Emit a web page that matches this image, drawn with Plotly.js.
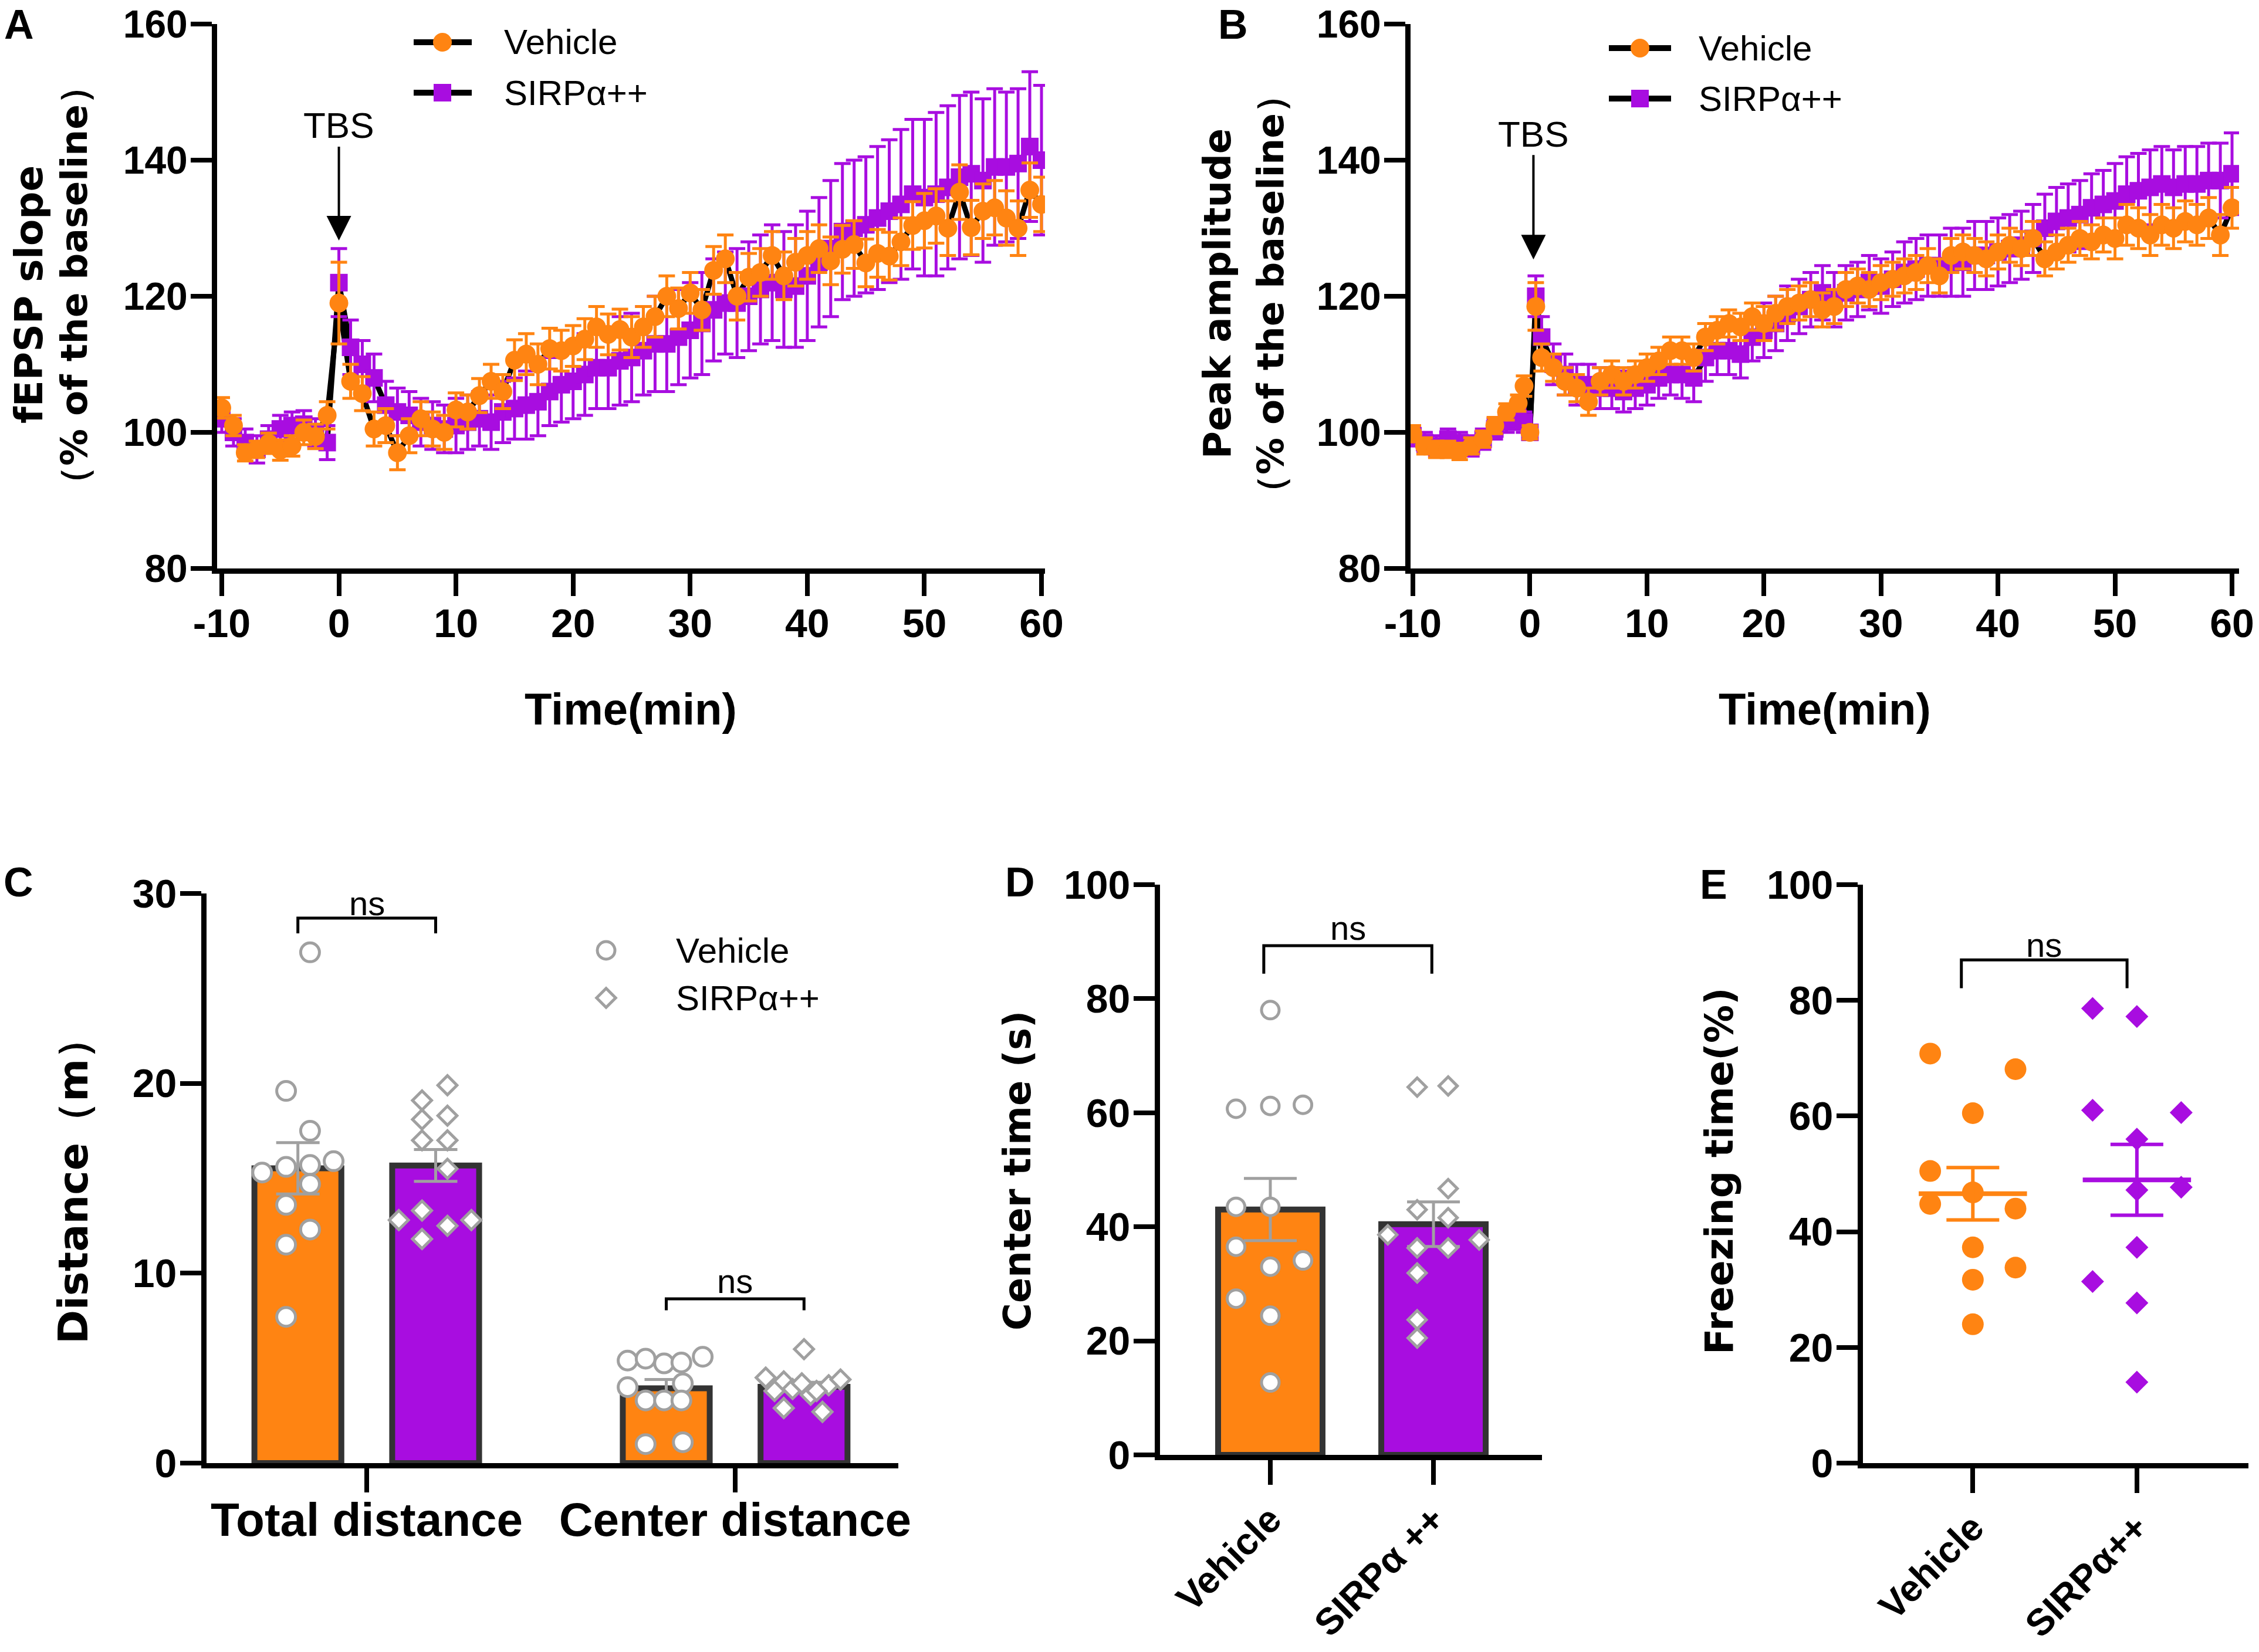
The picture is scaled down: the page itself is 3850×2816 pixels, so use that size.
<!DOCTYPE html>
<html><head><meta charset="utf-8">
<script src="https://cdn.plot.ly/plotly-3.0.1.min.js"></script>
<style>html,body{margin:0;padding:0;background:#fff}</style>
</head><body><div id="chart" style="width:3850px;height:2816px"></div>
<script>
const W = 3850, H = 2816;
const ORANGE = '#FF8412', PURPLE = '#A80DE0', GREY = '#A0A0A0', DARK = '#333333';
const FONT = 'Liberation Sans, Arial, Helvetica, sans-serif';
const TFONT = 'DejaVu Sans, Liberation Sans, sans-serif';

// ---------- Panel A : fEPSP slope ----------
const timeA = [-10,-9,-8,-7,-6,-5,-4,-3,-2,-1,0,1,2,3,4,5,6,7,8,9,10,11,12,13,14,15,16,17,18,19,20,21,22,23,24,25,26,27,28,29,30,31,32,33,34,35,36,37,38,39,40,41,42,43,44,45,46,47,48,49,50,51,52,53,54,55,56,57,58,59,60];
const vehA = [103.6,101,97,97.5,98.4,97.4,98,100,99.4,102.5,
  119,
  107.5,105.7,100.5,101,97,99.5,102,100.5,100,
  103.3,103,105.4,107.5,106,110.6,111.5,110,112.3,112,
  112.7,113.7,115.5,114.4,115.1,114,115.5,117,120,118.2,
  120.5,118,123.8,125.5,120,122.8,123.5,126,123,125,
  126,127,125.2,126.9,127.6,124.9,126.3,125.9,128,130.4,
  131.1,131.8,130,135.3,130.1,132.5,133,131.5,130,135.6,
  133.5];
const errVehA = [1.5,1.5,1.2,1.2,1.5,1.5,1.5,1.8,1.8,2,
  6,
  2.5,2.5,2.5,2.5,2.5,2.5,2.5,2.5,2.5,
  2.5,2.5,2.5,2.5,2.5,3,3,3,3,3,
  3,3,3,3,3,3,3,3,3,3,
  3,3,3.5,3.5,3.5,3.5,3.5,3.5,3.5,3.5,
  3.5,3.5,3.5,3.5,3.5,3.5,3.5,3.5,3.5,3.5,
  4,4,4,4,4,4,4,4,4,4,
  4];
const sirpA = [102,100,98.5,97.5,99,100.5,101,101.2,100,98.5,
  122,
  112.5,110,108,104,103,102.5,101.5,101,100.5,
  101,101.5,102,101.5,103,103.5,104,104.5,106,107,
  107.5,108.5,109.5,109.5,110.5,111,112,113,113,114,
  115,116,118,119,119,120,121,122,121,121.5,
  123,125,127,129.5,130,130.5,131.5,132.5,133.5,135,
  134.5,135,136,137.5,138,137,139,139,139.5,142,
  140];
const errSirpA = [2,2,2,2,2,2,2,2,2,2.5,
  5,
  4,3.5,3.5,3.5,3.5,3.5,3.5,3.5,3.5,
  4,4,4,4,4.5,4.5,5,5,5,5.5,
  5.5,6,6,6,6.5,6.5,6.5,7,7,7,
  7,7.5,7.5,7.5,8,8,8,8.5,8.5,9,
  9.5,9.5,10,10,10,10,10.5,10.5,11,11,
  11.5,12,12,12,12,12,11.5,11,11,11,
  11];

// ---------- Panel B : peak amplitude ----------
const timeB = [-10,-9,-8,-7,-6,-5,-4,-3,-2,-1,-0.5,0,0.5,1,2,3,4,5,6,7,8,9,10,11,12,13,14,15,16,17,18,19,20,21,22,23,24,25,26,27,28,29,30,31,32,33,34,35,36,37,38,39,40,41,42,43,44,45,46,47,48,49,50,51,52,53,54,55,56,57,58,59,60];
const vehB = [99.8,98,97.5,97.5,97.2,98,99,101,103,104.3,
  106.8,100,118.5,
  111,109.5,107.5,106.5,104.5,107.5,108.5,107.5,108.5,
  109.5,110.5,112,112,111,114,115,116,115.5,117,
  116,117.5,118.5,119,119.5,118,118.5,121,121.5,121,
  122,122.5,123,123.5,124.5,123,126,126.5,126,125.5,
  126.5,127.5,127,128.5,125.5,126.5,127.5,128.5,128,129,
  128.5,130.5,130,129,130.5,130,131,130.5,131.5,129,
  133];
const errVehB = [1.2,1.2,1.2,1.2,1.2,1.2,1.2,1.2,1.2,1.2,
  1.5,1,3.5,
  2,2,2,2,2,2,2,2,2,
  2,2,2,2,2,2,2,2,2,2,
  2.5,2.5,2.5,2.5,2.5,2.5,2.5,2.5,2.5,2.5,
  2.5,2.5,2.5,2.5,2.5,2.5,2.5,2.5,2.5,2.5,
  2.5,2.5,2.5,2.5,2.5,2.5,2.5,2.5,2.5,2.5,
  3,3,3,3,3,3,3,3,3,3,
  3];
const sirpB = [99.5,98.5,98,99,98.5,98,99,100.5,101.5,102,
  101.5,100,120,
  114,110,108.5,107,107,106.5,106.5,106,106.5,
  107,108,108.5,108.5,108,111,112,112,111.5,114,
  115,116,117.5,118.5,119.5,120.5,119.5,120.5,121,122,
  121.5,122.5,123.5,124,124.5,124.5,125,125,126,126,
  126.5,127,127.5,128.5,130,131,131.5,132,133,133.5,
  134,135,135.5,136,136.5,136,136.5,136.5,137,137,
  138];
const errSirpB = [1.5,1.5,1.5,1.5,1.5,1.5,1.5,1.5,1.5,1.5,
  1.5,1,3,
  3,3,3,3,3,3,3,3,3,
  3,3,3,3.5,3.5,3.5,3.5,3.5,3.5,3.5,
  4,4,4,4,4,4,4,4,4,4,
  4,4,4.5,4.5,4.5,4.5,5,5,5,5,
  5,5,5,5,5,5,5,5,5,5,
  5.5,5.5,5.5,5.5,5.5,5.5,5.5,5.5,5.5,5.5,
  6];
const timeTicks = [-10,0,10,20,30,40,50,60];
const timeTickText = ['-10','0','10','20','30','40','50','60'];
const ltpTicks = [80,100,120,140,160];

// ---------- Panel C : open field distance ----------
const distCats = ['Total distance','Center distance'];
const vehTotal  = [26.9,19.6,17.5,15.3,15.6,15.7,15.9,14.7,13.6,12.3,11.5,7.7];
const sirpTotal = [19.9,19.1,18.1,18.3,17.0,17.0,15.5,13.3,12.8,12.5,12.8,11.8];
const vehCenter  = [5.4,5.5,5.25,5.3,5.6,4.0,4.2,3.3,3.3,3.3,1.0,1.1];
const sirpCenter = [6.0,4.5,4.3,3.8,3.9,3.6,4.1,4.4,2.9,2.7,4.2,3.8];

// ---------- Panel D : center time ----------
const groupsD = ['Vehicle','SIRPα ++'];
const vehCT  = [78,60.7,61.2,61.4,43.5,43.5,36.5,33.0,34.1,27.4,24.4,12.7];
const sirpCT = [64.5,64.7,46.7,43,41.6,38.6,36.3,36.3,37.7,31.9,23.7,20.5];

// ---------- Panel E : freezing time ----------
const groupsE = ['Vehicle','SIRPα++'];
const vehFT  = [70.8,68.1,60.5,50.5,46.8,44.8,44.0,37.3,33.8,31.7,24.0];
const sirpFT = [78.6,77.2,61.0,60.6,56.0,47.2,47.7,37.3,31.4,27.7,14.0];

// ---------- style constants (horizontal scatter of dots inside a group) ----------
const JIT_C_VT = [0.033,-0.032,0.033,-0.097,-0.032,0.033,0.097,0.033,-0.032,0.033,-0.032,-0.032];
const JIT_C_ST = [0.032,-0.037,-0.037,0.032,-0.037,0.032,0.032,-0.037,-0.1,0.032,0.097,-0.037];
const JIT_C_VC = [-0.105,-0.056,-0.006,0.041,0.099,-0.105,0.045,-0.056,-0.006,0.041,-0.056,0.045];
const JIT_C_SC = [0,-0.104,-0.055,-0.08,-0.031,0.018,0.067,0.099,-0.055,0.05,-0.006,0.034];
const JIT_D_V = [0,-0.21,0,0.2,-0.21,0,-0.21,0,0.2,-0.21,0,0];
const JIT_D_S = [-0.1,0.09,0.09,-0.1,0.09,-0.28,-0.1,0.09,0.28,-0.1,-0.1,-0.1];
const JIT_E_V = [-0.26,0.26,0,-0.26,0,-0.26,0.26,0,0.26,0,0];
const JIT_E_S = [-0.27,0,-0.27,0.27,0,0,0.27,0,-0.27,0,0];
const C_OFF = 0.187, C_W = 0.236;

function mean(a){return a.reduce((s,v)=>s+v,0)/a.length;}
function sem(a){const m=mean(a);const v=a.reduce((s,x)=>s+(x-m)*(x-m),0)/(a.length-1);return Math.sqrt(v/a.length);}
const px = x => x / W;
const py = y => 1 - y / H;

const traces = [];
function ltpTraces(t, veh, eVeh, sirp, eSirp, xa, ya){
  traces.push({x:t, y:sirp, type:'scatter', mode:'lines', xaxis:xa, yaxis:ya, line:{color:'black', width:9}, showlegend:false, hoverinfo:'skip'});
  traces.push({x:t, y:veh, type:'scatter', mode:'lines', xaxis:xa, yaxis:ya, line:{color:'black', width:9}, showlegend:false, hoverinfo:'skip'});
  traces.push({x:t, y:sirp, type:'scatter', mode:'markers', name:'SIRPα++', xaxis:xa, yaxis:ya,
    marker:{symbol:'square', size:30, color:PURPLE},
    error_y:{type:'data', array:eSirp, color:PURPLE, thickness:5, width:14}, showlegend:false});
  traces.push({x:t, y:veh, type:'scatter', mode:'markers', name:'Vehicle', xaxis:xa, yaxis:ya,
    marker:{symbol:'circle', size:32, color:ORANGE},
    error_y:{type:'data', array:eVeh, color:ORANGE, thickness:5, width:14}, showlegend:false});
}
ltpTraces(timeA, vehA, errVehA, sirpA, errSirpA, 'x', 'y');
ltpTraces(timeB, vehB, errVehB, sirpB, errSirpB, 'x2', 'y2');

// C: bars
traces.push({type:'bar', x:distCats.map((c,i)=>i-C_OFF), y:[mean(vehTotal), mean(vehCenter)], width:C_W, xaxis:'x3', yaxis:'y3',
  marker:{color:ORANGE, line:{color:DARK, width:10}}, name:'Vehicle', showlegend:false,
  error_y:{type:'data', array:[sem(vehTotal), sem(vehCenter)], color:GREY, thickness:5, width:37}});
traces.push({type:'bar', x:distCats.map((c,i)=>i+C_OFF), y:[mean(sirpTotal), mean(sirpCenter)], width:C_W, xaxis:'x3', yaxis:'y3',
  marker:{color:PURPLE, line:{color:DARK, width:10}}, name:'SIRPα++', showlegend:false,
  error_y:{type:'data', array:[sem(sirpTotal), sem(sirpCenter)], color:GREY, thickness:5, width:37}});
function dots(vals, base, jit, xa, ya, symbol, size, fill, lineColor, lineW){
  traces.push({type:'scatter', mode:'markers', xaxis:xa, yaxis:ya, showlegend:false,
    x:vals.map((v,k)=>base+jit[k]), y:vals,
    marker:{symbol:symbol, size:size, color:fill, line:{color:lineColor, width:lineW}}});
}
dots(vehTotal, 0-C_OFF, JIT_C_VT, 'x3','y3','circle',32,'white',GREY,5);
dots(sirpTotal, 0+C_OFF, JIT_C_ST, 'x3','y3','diamond',25,'white',GREY,5);
dots(vehCenter, 1-C_OFF, JIT_C_VC, 'x3','y3','circle',32,'white',GREY,5);
dots(sirpCenter, 1+C_OFF, JIT_C_SC, 'x3','y3','diamond',25,'white',GREY,5);

// D: bars
traces.push({type:'bar', x:[0], y:[mean(vehCT)], width:0.64, xaxis:'x4', yaxis:'y4',
  marker:{color:ORANGE, line:{color:DARK, width:10}}, showlegend:false,
  error_y:{type:'data', array:[sem(vehCT)], color:GREY, thickness:5, width:45}});
traces.push({type:'bar', x:[1], y:[mean(sirpCT)], width:0.64, xaxis:'x4', yaxis:'y4',
  marker:{color:PURPLE, line:{color:DARK, width:10}}, showlegend:false,
  error_y:{type:'data', array:[sem(sirpCT)], color:GREY, thickness:5, width:45}});
dots(vehCT, 0, JIT_D_V, 'x4','y4','circle',30,'white',GREY,5);
dots(sirpCT, 1, JIT_D_S, 'x4','y4','diamond',24,'white',GREY,5);

// E: scatter with mean ± SEM
dots(vehFT, 0, JIT_E_V, 'x5','y5','circle',37,ORANGE,ORANGE,0);
dots(sirpFT, 1, JIT_E_S, 'x5','y5','diamond',30,PURPLE,PURPLE,0);
[[vehFT,0,ORANGE],[sirpFT,1,PURPLE]].forEach(([vals,i,col])=>{
  const m = mean(vals);
  traces.push({type:'scatter', mode:'lines', xaxis:'x5', yaxis:'y5', showlegend:false,
    x:[i-0.33, i+0.33], y:[m, m], line:{color:col, width:8}});
  traces.push({type:'scatter', mode:'markers', xaxis:'x5', yaxis:'y5', showlegend:false,
    x:[i], y:[m], marker:{size:1, color:'rgba(0,0,0,0)'},
    error_y:{type:'data', array:[sem(vals)], color:col, thickness:6, width:45}});
});

// ---------- axes ----------
function ax(extra){
  return Object.assign({showline:true, linecolor:'black', linewidth:9, ticks:'outside', ticklen:36, tickwidth:8,
    tickcolor:'black', showgrid:false, zeroline:false, fixedrange:true, ticklabeloverflow:'allow',
    tickfont:{family:FONT, size:68, color:'black', weight:'bold'}}, extra);
}
const yTickFontTop = {family:FONT, size:66, color:'black', weight:'bold'};
const layout = {
  width:W, height:H, margin:{l:0,r:0,t:0,b:0}, paper_bgcolor:'white', plot_bgcolor:'rgba(0,0,0,0)',
  showlegend:false, bargap:0,
  xaxis: ax({domain:[px(370), px(1781)], range:[-10.4, 60.3], anchor:'y', tickvals:timeTicks, ticktext:timeTickText, ticklen:38, ticklabelstandoff:-12}),
  yaxis: ax({domain:[py(969), py(41)], range:[80,160], anchor:'x', tickvals:ltpTicks, ticklabelstandoff:-8, tickfont:yTickFontTop}),
  xaxis2: ax({domain:[px(2404), px(3816)], range:[-10.2, 60.6], anchor:'y2', tickvals:timeTicks, ticktext:timeTickText, ticklen:38, ticklabelstandoff:-12}),
  yaxis2: ax({domain:[py(969), py(41)], range:[80,160], anchor:'x2', tickvals:ltpTicks, ticklabelstandoff:-8, tickfont:yTickFontTop}),
  xaxis3: ax({domain:[px(352), px(1531)], range:[-0.435, 1.443], anchor:'y3', tickvals:[0,1], ticktext:distCats, ticklen:41,
    ticklabelstandoff:-22, tickfont:{family:FONT, size:80, color:'black', weight:'bold'}}),
  yaxis3: ax({domain:[py(2494), py(1523)], range:[0,30], anchor:'x3', tickvals:[0,10,20,30], ticklabelstandoff:-8}),
  xaxis4: ax({domain:[px(1977), px(2628)], range:[-0.676, 1.665], anchor:'y4', tickvals:[0,1], ticktext:groupsD, tickangle:-45, ticklen:42,
    ticklabelstandoff:-4, tickfont:{family:FONT, size:64, color:'black', weight:'bold'}}),
  yaxis4: ax({domain:[py(2480), py(1508)], range:[0,100], anchor:'x4', tickvals:[0,20,40,60,80,100], ticklabelstandoff:-8}),
  xaxis5: ax({domain:[px(3175), px(3832)], range:[-0.67, 1.68], anchor:'y5', tickvals:[0,1], ticktext:groupsE, tickangle:-45, ticklen:42,
    ticklabelstandoff:-4, tickfont:{family:FONT, size:64, color:'black', weight:'bold'}}),
  yaxis5: ax({domain:[py(2494), py(1508)], range:[0,100], anchor:'x5', tickvals:[0,20,40,60,80,100], ticklabelstandoff:-8}),
  annotations: [], shapes: []
};

function note(text, x, y, size, bold, extra, family){
  layout.annotations.push(Object.assign({text:text, x:px(x), y:py(y), xref:'paper', yref:'paper', showarrow:false,
    xanchor:'center', yanchor:'middle', font:{family:family||FONT, size:size, color:'black', weight: bold ? 'bold' : 'normal'}}, extra||{}));
}
// panel letters
note('A', 32, 42, 70, true); note('B', 2101, 42, 70, true); note('C', 31, 1504, 70, true);
note('D', 1738, 1504, 70, true); note('E', 2920, 1508, 70, true);
// axis titles
note('fEPSP slope', 50, 502, 66, true, {textangle:-90}, TFONT);
note('（% of the baseline）', 126, 486, 63, true, {textangle:-90}, TFONT);
note('Peak amplitude', 2075, 501, 64, true, {textangle:-90}, TFONT);
note('（% of the baseline）', 2165, 501, 63, true, {textangle:-90}, TFONT);
note('Time(min)', 1075, 1208, 76, true);
note('Time(min)', 3110, 1208, 76, true);
note('Distance（m）', 125, 2013, 70, true, {textangle:-90}, TFONT);
note('Center time (s)', 1734, 1996, 64, true, {textangle:-90}, TFONT);
note('Freezing time(%)', 2930, 1996, 65, true, {textangle:-90}, TFONT);

// TBS arrows
layout.annotations.push({text:'TBS', x:0, y:128.2, xref:'x', yref:'y', showarrow:true, ax:0, ay:-196,
  arrowhead:2, arrowsize:2.1, arrowwidth:4, arrowcolor:'black', standoff:0,
  font:{family:FONT, size:62, color:'black'}});
layout.annotations.push({text:'TBS', x:0.3, y:125.4, xref:'x2', yref:'y2', showarrow:true, ax:0, ay:-214,
  arrowhead:2, arrowsize:2.1, arrowwidth:4, arrowcolor:'black', standoff:0,
  font:{family:FONT, size:62, color:'black'}});

// custom legends
function legLine(x0, x1, y){
  layout.shapes.push({type:'line', xref:'paper', yref:'paper', x0:px(x0), x1:px(x1), y0:py(y), y1:py(y), line:{color:'black', width:10}});
}
function legMark(kind, x, y, r, fill, lineColor, lineW){
  const s = {xref:'paper', yref:'paper', xsizemode:'pixel', ysizemode:'pixel', xanchor:px(x), yanchor:py(y),
    fillcolor:fill, line:{color:lineColor, width:lineW}};
  if(kind==='circle'){ Object.assign(s,{type:'circle', x0:-r, x1:r, y0:-r, y1:r}); }
  else if(kind==='square'){ Object.assign(s,{type:'rect', x0:-r, x1:r, y0:-r, y1:r}); }
  else { Object.assign(s,{type:'path', path:`M0,${r*1.25}L${r*1.25},0L0,${-r*1.25}L${-r*1.25},0Z`}); }
  layout.shapes.push(s);
}
function legText(t, x, y){ note(t, x, y, 60, false, {xanchor:'left'}); }
// A
legLine(705, 804, 72); legMark('circle', 754, 72, 16, ORANGE, ORANGE, 0); legText('Vehicle', 857, 72);
legLine(705, 804, 158); legMark('square', 754, 158, 15, PURPLE, PURPLE, 0); legText('SIRPα++', 857, 158);
// B
legLine(2742, 2848, 82); legMark('circle', 2795, 82, 16, ORANGE, ORANGE, 0); legText('Vehicle', 2893, 82);
legLine(2742, 2848, 168); legMark('square', 2795, 168, 15, PURPLE, PURPLE, 0); legText('SIRPα++', 2893, 168);
// C
legMark('circle', 1033, 1620, 15, 'white', GREY, 5); legText('Vehicle', 1150, 1620);
legMark('diamond', 1033, 1701, 13, 'white', GREY, 5); legText('SIRPα++', 1150, 1701);

// significance brackets
function bracket(xa, ya, x0, x1, yTop, yLeg, yText){
  layout.shapes.push({type:'path', xref:xa, yref:ya, path:`M${x0},${yLeg} L${x0},${yTop} L${x1},${yTop} L${x1},${yLeg}`,
    line:{color:'black', width:5}});
  layout.annotations.push({text:'ns', x:(x0+x1)/2, y:yText, xref:xa, yref:ya, showarrow:false, xanchor:'center', yanchor:'middle',
    font:{family:FONT, size:58, color:'black'}});
}
bracket('x3','y3', 0-C_OFF, 0+C_OFF, 28.7, 27.9, 29.5);
bracket('x3','y3', 1-C_OFF, 1+C_OFF, 8.65, 8.05, 9.6);
bracket('x4','y4', -0.04, 0.99, 89.3, 84.4, 92.4);
bracket('x5','y5', -0.07, 0.94, 87, 82.1, 89.6);

Plotly.newPlot('chart', traces, layout, {displayModeBar:false, staticPlot:true});
</script></body></html>
